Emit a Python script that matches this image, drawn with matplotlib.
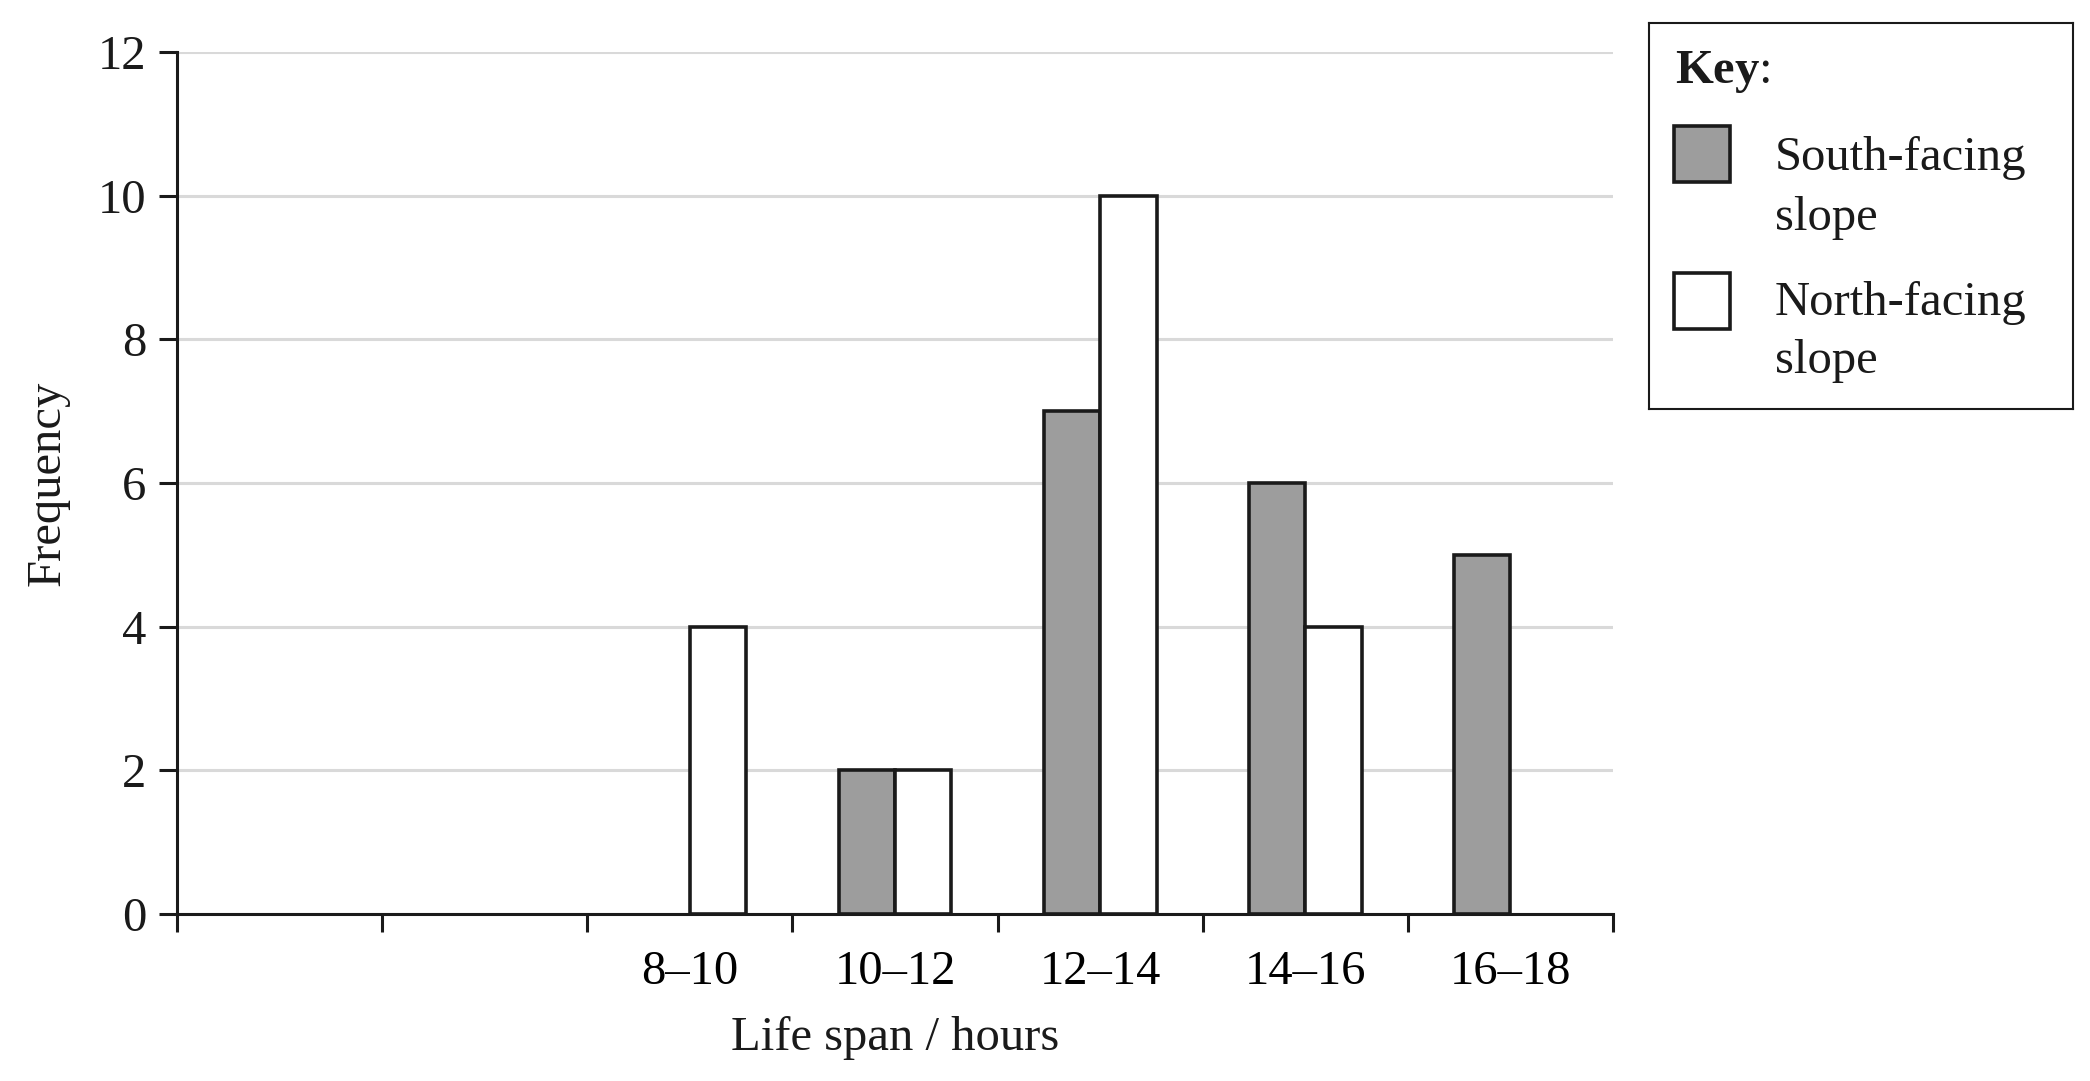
import matplotlib
matplotlib.use("Agg")
import matplotlib.pyplot as plt
from matplotlib.patches import Rectangle

# data
groups = ["", "", "8–10", "10–12", "12–14", "14–16", "16–18"]
south = [0, 0, 0, 2, 7, 6, 5]
north = [0, 0, 4, 2, 10, 4, 0]

plt.rcParams["font.family"] = ["Liberation Serif", "DejaVu Serif"]
plt.rcParams["mathtext.fontset"] = "custom"
plt.rcParams["mathtext.bf"] = "Liberation Serif:bold"

W, H = 2090, 1081
fig = plt.figure(figsize=(W / 100, H / 100), dpi=100)
ax = fig.add_axes([177 / W, 1 - 914 / H, (1613 - 177) / W, (914 - 52) / H])

fs = 35
ink = "#1a1a1a"
bw = 0.275
centers = [i + 0.5 for i in range(len(groups))]

sx = [c - bw for c, v in zip(centers, south) if v > 0]
sv = [v for v in south if v > 0]
nx = [c for c, v in zip(centers, north) if v > 0]
nv = [v for v in north if v > 0]
ax.bar(sx, sv, width=bw, align="edge", color="#9d9d9d", edgecolor=ink,
       linewidth=2.6, zorder=3)
ax.bar(nx, nv, width=bw, align="edge", color="white", edgecolor=ink,
       linewidth=2.6, zorder=3)

ax.set_xlim(0, len(groups))
ax.set_ylim(0, 12)
ax.set_yticks(range(0, 13, 2))
ax.yaxis.grid(True, color="#d9d9d9", linewidth=2.2, zorder=0)
ax.set_axisbelow(True)

ax.set_xticks(range(len(groups) + 1))
ax.set_xticklabels([])
ax.set_xticks(centers, minor=True)
ax.set_xticklabels(groups, minor=True)
ax.tick_params(axis="x", which="minor", length=0, pad=26, labelsize=fs)
ax.tick_params(axis="both", which="major", length=13, width=2.2, color=ink,
               direction="out", labelsize=fs, labelcolor=ink)
ax.tick_params(axis="y", pad=9)

for s in ["top", "right"]:
    ax.spines[s].set_visible(False)
for s in ["left", "bottom"]:
    ax.spines[s].set_linewidth(2.2)
    ax.spines[s].set_color(ink)

ax.set_xlabel("Life span / hours", fontsize=fs, color=ink, labelpad=16)
ax.set_ylabel("Frequency", fontsize=fs, color=ink, labelpad=20)

# key box drawn in pixel coords
kx0, ky0, kx1, ky1 = 1649, 23, 2073, 409
kax = fig.add_axes([kx0 / W, 1 - ky1 / H, (kx1 - kx0) / W, (ky1 - ky0) / H])
kax.set_xlim(0, kx1 - kx0)
kax.set_ylim(ky1 - ky0, 0)
kax.set_xticks([])
kax.set_yticks([])
for s in kax.spines.values():
    s.set_linewidth(1.5)
    s.set_color(ink)

kax.text(26, 60, r"$\mathbf{Key}$:", fontsize=fs, va="baseline", color=ink)
kax.add_patch(Rectangle((25, 103), 56, 56, facecolor="#9d9d9d",
                        edgecolor=ink, linewidth=2.6))
kax.add_patch(Rectangle((25, 250), 56, 56, facecolor="white",
                        edgecolor=ink, linewidth=2.6))
for txt, yb in [("South-facing", 147), ("slope", 207),
                ("North-facing", 292), ("slope", 350)]:
    kax.text(126, yb, txt, fontsize=fs, va="baseline", color=ink)

fig.savefig("out.png", dpi=100)
